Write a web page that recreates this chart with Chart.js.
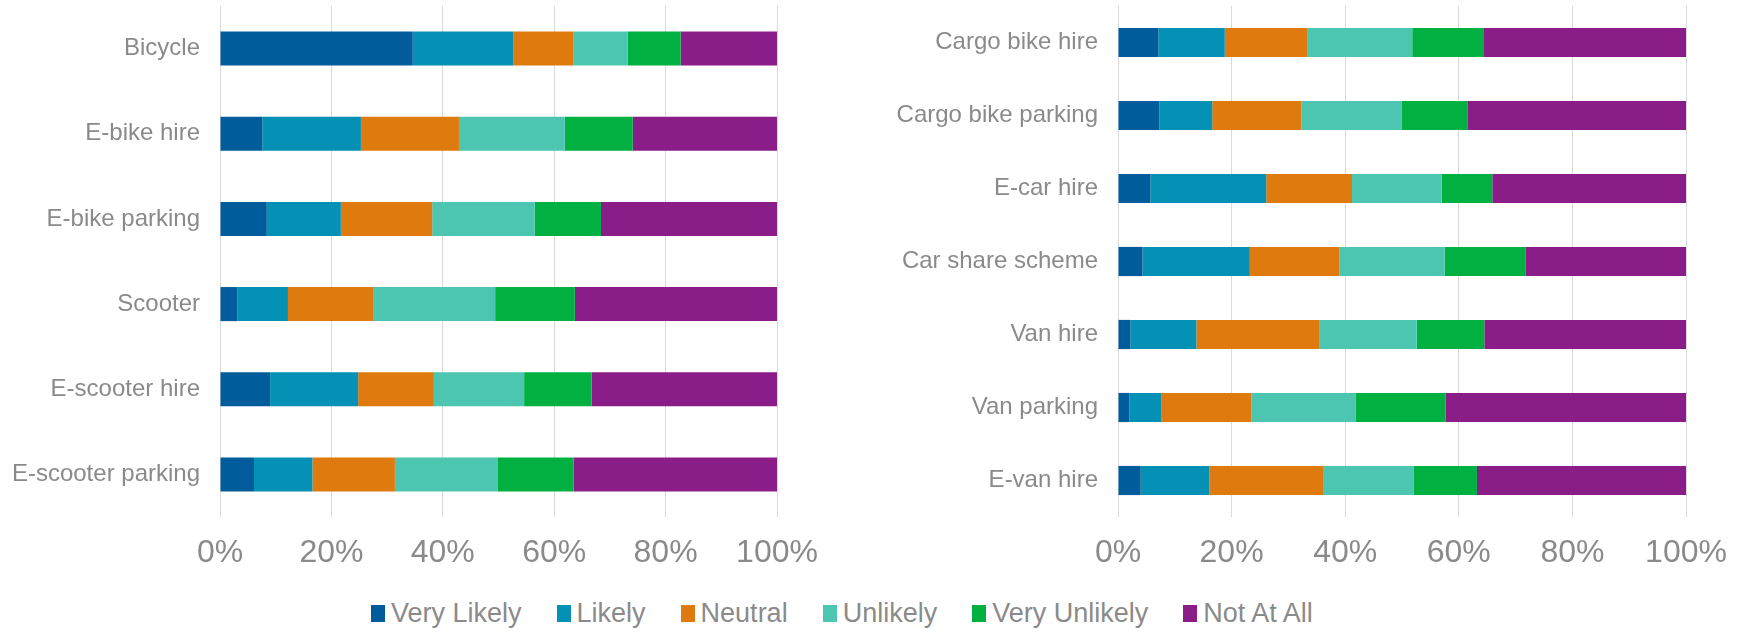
<!DOCTYPE html>
<html>
<head>
<meta charset="utf-8">
<script src="https://cdn.jsdelivr.net/npm/chart.js@4.4.1/dist/chart.umd.min.js"></script>
<style>
  body { margin: 0; background: #fff; width: 1742px; height: 633px; overflow: hidden; position: relative; }
  #leftChart { position: absolute; left: 0; top: 0; }
  #rightChart { position: absolute; left: 840px; top: 0; }
  #legend { position: absolute; left: 371px; top: 598px; display: flex; align-items: center;
            font-family: "Liberation Sans", Arial, sans-serif; font-size: 27px; color: #8a8a8a; white-space: nowrap; }
  #legend .item { display: flex; align-items: center; margin-right: 35px; }
  #legend .box { width: 14px; height: 17px; margin-right: 6px; }
</style>
</head>
<body>
<canvas id="leftChart" width="820" height="580"></canvas>
<canvas id="rightChart" width="902" height="580"></canvas>
<div id="legend"></div>
<script>
const seriesNames = ["Very Likely", "Likely", "Neutral", "Unlikely", "Very Unlikely", "Not At All"];
const seriesColors = ["#005c9a", "#0491b5", "#df7b0e", "#4cc6b1", "#00b142", "#8a1d87"];

const leftCategories = ["Bicycle", "E-bike hire", "E-bike parking", "Scooter", "E-scooter hire", "E-scooter parking"];
const leftVeryLikely   = [34.6, 7.6, 8.4, 3.1, 9.0, 6.1];
const leftLikely       = [18.1, 17.7, 13.3, 9.1, 15.8, 10.5];
const leftNeutral      = [10.7, 17.6, 16.4, 15.4, 13.6, 14.8];
const leftUnlikely     = [9.8, 19.0, 18.4, 21.8, 16.2, 18.5];
const leftVeryUnlikely = [9.5, 12.2, 11.9, 14.3, 12.1, 13.6];
const leftNotAtAll     = [17.3, 25.9, 31.6, 36.3, 33.3, 36.5];

const rightCategories = ["Cargo bike hire", "Cargo bike parking", "E-car hire", "Car share scheme", "Van hire", "Van parking", "E-van hire"];
const rightVeryLikely   = [7.1, 7.3, 5.7, 4.3, 2.2, 2.0, 4.0];
const rightLikely       = [11.7, 9.3, 20.4, 18.9, 11.6, 5.6, 12.1];
const rightNeutral      = [14.6, 15.7, 15.1, 15.8, 21.6, 15.9, 20.0];
const rightUnlikely     = [18.4, 17.6, 15.8, 18.5, 17.2, 18.3, 16.0];
const rightVeryUnlikely = [12.5, 11.6, 8.9, 14.3, 11.9, 15.9, 11.1];
const rightNotAtAll     = [35.7, 38.5, 34.1, 28.2, 35.5, 42.3, 36.8];

const xTicks = [0, 20, 40, 60, 80, 100];

const gray = "#8a8a8a";

function makeChart(id, labels, values, axisWidth, padRight) {
    let ctx = document.getElementById(id).getContext("2d");
    return new Chart(ctx, {
        type: "bar",
        data: {
            labels: labels,
            datasets: values.map((v, i) => ({
                label: seriesNames[i],
                data: v,
                backgroundColor: seriesColors[i],
                borderWidth: 0,
                barPercentage: 0.4,
                categoryPercentage: 1
            }))
        },
        options: {
            indexAxis: "y",
            responsive: false,
            animation: false,
            layout: { padding: { top: 6, right: padRight, bottom: 0, left: 0 } },
            plugins: { legend: { display: false }, tooltip: { enabled: false } },
            scales: {
                x: {
                    stacked: true,
                    min: 0,
                    max: 100,
                    afterBuildTicks: s => { s.ticks = xTicks.map(v => ({ value: v })); },
                    afterFit: s => { s.height = 63; s.paddingLeft = 0; s.paddingRight = 0; },
                    grid: { color: "#d9d9d9", lineWidth: 1, drawTicks: false },
                    border: { display: false },
                    ticks: {
                        padding: 17,
                        color: gray,
                        font: { family: "'Liberation Sans Narrow', 'Liberation Sans', Arial", size: 32 },
                        maxRotation: 0,
                        callback: v => v + "%"
                    }
                },
                y: {
                    stacked: true,
                    afterFit: s => { s.width = axisWidth; s.paddingTop = 0; s.paddingBottom = 0; },
                    grid: { display: false, drawTicks: false },
                    border: { display: false },
                    ticks: {
                        padding: 20,
                        color: gray,
                        font: { family: "'Liberation Sans', Arial", size: 24 }
                    }
                }
            }
        }
    });
}

makeChart("leftChart", leftCategories,
    [leftVeryLikely, leftLikely, leftNeutral, leftUnlikely, leftVeryUnlikely, leftNotAtAll], 220, 43);
makeChart("rightChart", rightCategories,
    [rightVeryLikely, rightLikely, rightNeutral, rightUnlikely, rightVeryUnlikely, rightNotAtAll], 278, 56);

// shared legend under both charts
let legend = document.getElementById("legend");
seriesNames.forEach((name, i) => {
    let item = document.createElement("div");
    item.className = "item";
    item.innerHTML = '<span class="box" style="background:' + seriesColors[i] + '"></span>' + name;
    legend.appendChild(item);
});
</script>
</body>
</html>
